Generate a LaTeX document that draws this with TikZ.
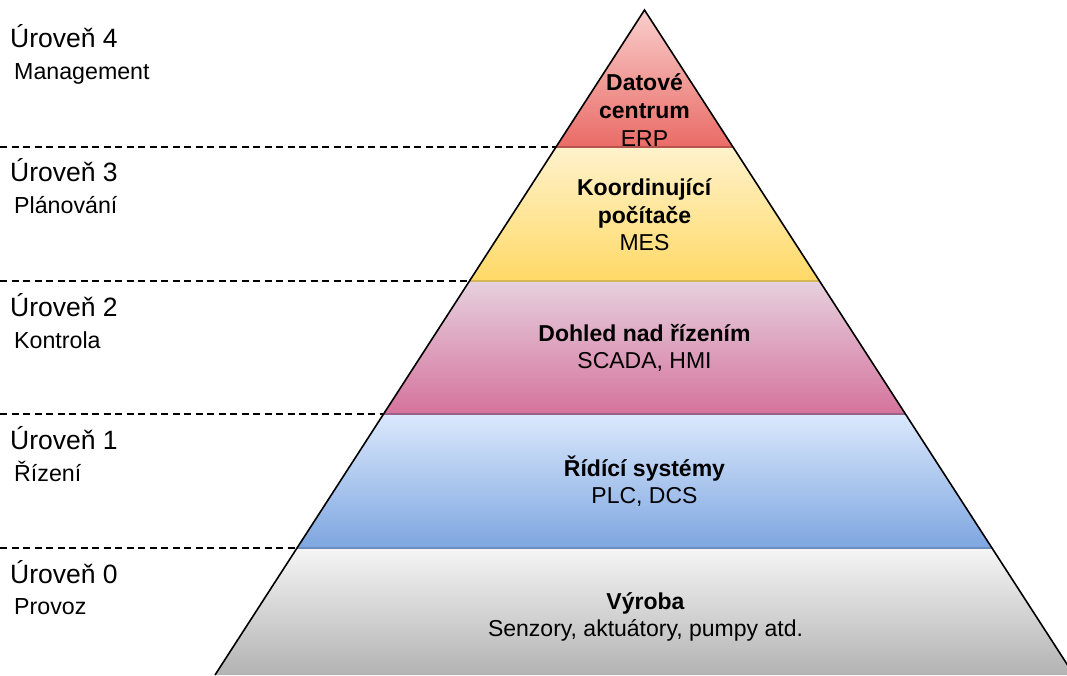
\documentclass[tikz,border=0pt]{standalone}
\usepackage{fontspec}
\setmainfont{Liberation Sans}
\definecolor{erpTop}{HTML}{F8CECC}
\definecolor{erpBot}{HTML}{EA6B66}
\definecolor{erpLine}{HTML}{B85450}
\definecolor{mesTop}{HTML}{FFF2CC}
\definecolor{mesBot}{HTML}{FFD966}
\definecolor{mesLine}{HTML}{D6B656}
\definecolor{scTop}{HTML}{E6D0DE}
\definecolor{scBot}{HTML}{D5739D}
\definecolor{scLine}{HTML}{996185}
\definecolor{plcTop}{HTML}{DAE8FC}
\definecolor{plcBot}{HTML}{7EA6E0}
\definecolor{plcLine}{HTML}{6C8EBF}
\definecolor{fldTop}{HTML}{F5F5F5}
\definecolor{fldBot}{HTML}{B3B3B3}
\definecolor{fldLine}{HTML}{666666}
\begin{document}
\begin{tikzpicture}[x=1pt,y=-1pt,
  levelname/.style={inner sep=0pt,font=\fontsize{26.5}{31}\selectfont},
  levelsub/.style={inner sep=0pt,font=\fontsize{23.2}{27.6}\selectfont},
  bandtext/.style={inner sep=0pt,align=center,font=\fontsize{23}{27.6}\selectfont},
  bandline/.style={line width=1.4pt},
  outline/.style={line width=1.6pt,black,line join=miter},
  guide/.style={line width=1.4pt,black,dash pattern=on 7pt off 4.5pt}]
\useasboundingbox (0,0) rectangle (1067,676);
\clip (0,0) rectangle (1067,676);

% pyramid corners
\coordinate (apex) at (644.5,10);
\coordinate (l1) at (556,147);   \coordinate (r1) at (733,147);
\coordinate (l2) at (469.5,281); \coordinate (r2) at (819.5,281);
\coordinate (l3) at (383.6,414); \coordinate (r3) at (905.4,414);
\coordinate (l4) at (297,548);   \coordinate (r4) at (992,548);
\coordinate (l5) at (215,675);   \coordinate (r5) at (1074,675);

% bands
\shade[top color=erpTop,bottom color=erpBot] (apex) -- (r1) -- (l1) -- cycle;
\shade[top color=mesTop,bottom color=mesBot] (l1) -- (r1) -- (r2) -- (l2) -- cycle;
\shade[top color=scTop,bottom color=scBot] (l2) -- (r2) -- (r3) -- (l3) -- cycle;
\shade[top color=plcTop,bottom color=plcBot] (l3) -- (r3) -- (r4) -- (l4) -- cycle;
\shade[top color=fldTop,bottom color=fldBot] (l4) -- (r4) -- (r5) -- (l5) -- cycle;

% band borders
\draw[bandline,erpLine] (l1) -- (r1);
\draw[bandline,mesLine] (l2) -- (r2);
\draw[bandline,scLine] (l3) -- (r3);
\draw[bandline,plcLine] (l4) -- (r4);

% pyramid sides
\draw[outline] (l5) -- (apex) -- (r5);

% dashed level separators
\coordinate (g1) at (0,147);
\coordinate (g2) at (0,281);
\coordinate (g3) at (0,414);
\coordinate (g4) at (0,548);
\draw[guide] (g1) -- (l1);
\draw[guide] (g2) -- (l2);
\draw[guide] (g3) -- (l3);
\draw[guide] (g4) -- (l4);

% level labels
\node[levelname,anchor=base west] (u4) at (10,48) {Úroveň 4};
\node[levelsub,anchor=base west] (s4) at (14,80) {Management};
\node[levelname,anchor=base west] (u3) at (10,182) {Úroveň 3};
\node[levelsub,anchor=base west] (s3) at (14,214) {Plánování};
\node[levelname,anchor=base west] (u2) at (10,316) {Úroveň 2};
\node[levelsub,anchor=base west] (s2) at (14,348) {Kontrola};
\node[levelname,anchor=base west] (u1) at (10,449) {Úroveň 1};
\node[levelsub,anchor=base west] (s1) at (14,481) {Řízení};
\node[levelname,anchor=base west] (u0) at (10,583) {Úroveň 0};
\node[levelsub,anchor=base west] (s0) at (14,614) {Provoz};

% band contents
\node[bandtext] (erp) at (644.5,110) {\textbf{Datové}\\\textbf{centrum}\\ERP};
\node[bandtext] (mes) at (644.5,215) {\textbf{Koordinující}\\\textbf{počítače}\\MES};
\node[bandtext] (scada) at (644.5,348) {\textbf{Dohled nad řízením}\\SCADA, HMI};
\node[bandtext] (plc) at (644.5,481) {\textbf{Řídící systémy}\\PLC, DCS};
\node[bandtext] (field) at (645.5,617) {\textbf{Výroba}\\Senzory, aktuátory, pumpy atd.};
\end{tikzpicture}
\end{document}
